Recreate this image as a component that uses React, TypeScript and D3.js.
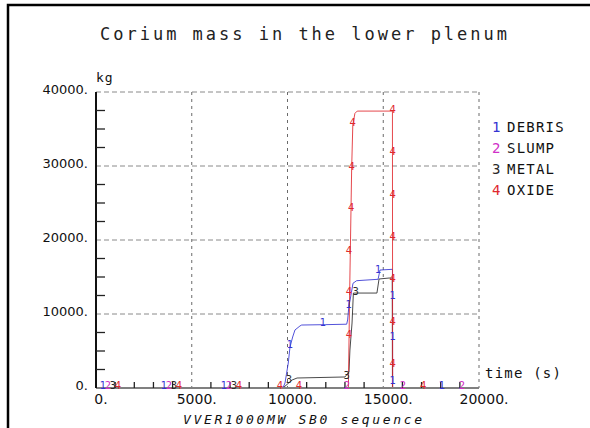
import React from "react";
import * as d3 from "d3";

const seriesNames = ["DEBRIS", "SLUMP", "METAL", "OXIDE"];
const seriesDigits = ["1", "2", "3", "4"];
const seriesColors = ["#3434d2", "#d030c8", "#2a2a2a", "#e0282e"];

const debrisT = [0, 9760, 9870, 10040, 10130, 10270, 10390, 10650, 10740, 12000, 13090, 13140, 13210, 13260, 13420, 13610, 14730, 14830, 15480, 15490, 20000];
const debrisV = [0, 0, 680, 3380, 5540, 6890, 7840, 8380, 8510, 8560, 8620, 9190, 11210, 11750, 14150, 14500, 14690, 15940, 16040, 0, 0];

const slumpT = [0, 20000];
const slumpV = [0, 0];

const metalT = [0, 9760, 10240, 10500, 13000, 13210, 13260, 13370, 13440, 13630, 14670, 14780, 15300, 15470, 15480, 20000];
const metalV = [0, 0, 1080, 1350, 1490, 2160, 5130, 8780, 12830, 12830, 12830, 14730, 14860, 14860, 0, 0];

const oxideT = [0, 13180, 13240, 13290, 13350, 13410, 13520, 13640, 15480, 15490, 20000];
const oxideV = [0, 0, 11900, 20000, 29590, 35530, 37110, 37420, 37420, 0, 0];

const debrisMarkT = [366, 3551, 6684, 10130, 11850, 13200, 14740, 15490, 15490, 15490, 18070];
const debrisMarkV = [0, 0, 0, 5540, 8510, 10900, 15630, 12120, 6490, 640, 0];

const slumpMarkT = [627, 3812, 6945, 13110, 16030, 19110];
const slumpMarkV = [0, 0, 0, 0, 0, 0];

const metalMarkT = [888, 4073, 7206, 10080, 13090, 13560];
const metalMarkV = [0, 0, 0, 800, 1300, 12660];

const oxideMarkT = [1149, 4334, 7467, 9610, 10600, 13210, 13210, 13210, 13320, 13350, 13400, 15490, 15490, 15490, 15490, 15490, 15490, 15490, 17080];
const oxideMarkV = [0, 0, 0, 0, 0, 6760, 12700, 18240, 24050, 29590, 35530, 37250, 31570, 25710, 20130, 14360, 8610, 2880, 0];

const xMajor = [0, 5000, 10000, 15000, 20000];
const xLabels = ["0.", "5000.", "10000.", "15000.", "20000."];
const yMajor = [0, 10000, 20000, 30000, 40000];
const yLabels = ["0.", "10000.", "20000.", "30000.", "40000."];

const titleText = "Corium mass in the lower plenum";
const subtitleText = "VVER1000MW SB0 sequence";
const xUnit = "time (s)";
const yUnit = "kg";

const W = 590;
const H = 428;
const plot = { left: 96, right: 479, top: 92, bottom: 388 };

export default function App() {
  const x = d3.scaleLinear().domain([0, 20000]).range([plot.left, plot.right]);
  const y = d3.scaleLinear().domain([0, 40000]).range([plot.bottom, plot.top]);

  const series = [
    { t: debrisT, v: debrisV, mt: debrisMarkT, mv: debrisMarkV },
    { t: slumpT, v: slumpV, mt: slumpMarkT, mv: slumpMarkV },
    { t: metalT, v: metalV, mt: metalMarkT, mv: metalMarkV },
    { t: oxideT, v: oxideV, mt: oxideMarkT, mv: oxideMarkV },
  ];

  const line = d3
    .line<[number, number]>()
    .x((d) => x(d[0]))
    .y((d) => y(d[1]));

  const xMinor = d3.range(1000, 20000, 1000).filter((t) => t % 5000 !== 0);
  const yMinor = d3.range(2500, 40000, 2500).filter((v) => v % 10000 !== 0);

  const mono = "'DejaVu Sans Mono', 'Liberation Mono', monospace";
  const sans = "'DejaVu Sans', 'Liberation Sans', sans-serif";

  return (
    <svg
      width={W}
      height={H}
      style={{ position: "absolute", left: 0, top: 0, background: "#fff" }}
    >
      <rect x={0} y={0} width={W} height={H} fill="#fff" />
      <rect x={8} y={5} width={W + 20} height={H + 20} fill="none" stroke="#000" strokeWidth={2.5} />

      <text
        x={100}
        y={40}
        fontFamily={mono}
        fontSize={17}
        textLength={407}
        lengthAdjust="spacing"
        fill="#222"
      >
        {titleText}
      </text>

      {/* grid */}
      {yMajor.filter((v) => v > 0).map((v) => (
        <line
          key={"gy" + v}
          x1={plot.left}
          x2={plot.right}
          y1={y(v)}
          y2={y(v)}
          stroke="#8a8a8a"
          strokeWidth={1}
          strokeDasharray="5,3"
        />
      ))}
      {xMajor.filter((t) => t > 0).map((t) => (
        <line
          key={"gx" + t}
          x1={x(t)}
          x2={x(t)}
          y1={plot.top}
          y2={plot.bottom}
          stroke="#6a6a6a"
          strokeWidth={1}
          strokeDasharray="3,4"
        />
      ))}

      {/* series lines */}
      {series.map((s, i) => (
        <path
          key={"l" + i}
          d={line(s.t.map((t, k) => [t, s.v[k]] as [number, number])) || ""}
          fill="none"
          stroke={seriesColors[i]}
          strokeWidth={1}
          opacity={0.85}
        />
      ))}

      {/* axes */}
      <line x1={plot.left} x2={plot.right} y1={plot.bottom} y2={plot.bottom} stroke="#808080" strokeWidth={2} />
      {xMinor.map((t) => (
        <line key={"xt" + t} x1={x(t)} x2={x(t)} y1={plot.bottom} y2={plot.bottom - 6} stroke="#222" strokeWidth={1.3} />
      ))}
      <line x1={plot.left} x2={plot.left} y1={plot.top} y2={plot.bottom} stroke="#111" strokeWidth={2} />
      {yMinor.map((v) => (
        <line key={"yt" + v} x1={plot.left} x2={plot.left + 9} y1={y(v)} y2={y(v)} stroke="#222" strokeWidth={1.3} />
      ))}

      {/* markers */}
      {series.map((s, i) =>
        s.mt.map((t, k) => (
          <text
            key={"m" + i + "_" + k}
            x={x(t)}
            y={y(s.mv[k]) - 3}
            textAnchor="middle"
            dominantBaseline="central"
            fontFamily={sans}
            fontSize={10}
            fill={seriesColors[i]}
          >
            {seriesDigits[i]}
          </text>
        ))
      )}

      {/* tick labels */}
      {yMajor.map((v, i) => (
        <text key={"yl" + v} x={88} y={y(v) + 2} textAnchor="end" fontFamily={sans} fontSize={13} fill="#111">
          {yLabels[i]}
        </text>
      ))}
      {xMajor.map((t, i) => (
        <text key={"xl" + t} x={x(t) + 5} y={404} textAnchor="middle" fontFamily={sans} fontSize={14} fill="#111">
          {xLabels[i]}
        </text>
      ))}

      <text x={96} y={82} fontFamily={mono} fontSize={13} letterSpacing={1} fill="#111">
        {yUnit}
      </text>
      <text x={485} y={378} fontFamily={mono} fontSize={14} letterSpacing={1.2} fill="#111">
        {xUnit}
      </text>
      <text
        x={183}
        y={424}
        fontFamily={mono}
        fontStyle="italic"
        fontSize={13}
        textLength={239}
        lengthAdjust="spacing"
        fill="#111"
      >
        {subtitleText}
      </text>

      {/* legend */}
      {seriesNames.map((n, i) => (
        <g key={"lg" + i}>
          <text x={492} y={132 + i * 21} fontFamily={mono} fontSize={14} fill={seriesColors[i]}>
            {seriesDigits[i]}
          </text>
          <text x={507} y={132 + i * 21} fontFamily={mono} fontSize={14} letterSpacing={1.2} fill="#111">
            {n}
          </text>
        </g>
      ))}
    </svg>
  );
}
